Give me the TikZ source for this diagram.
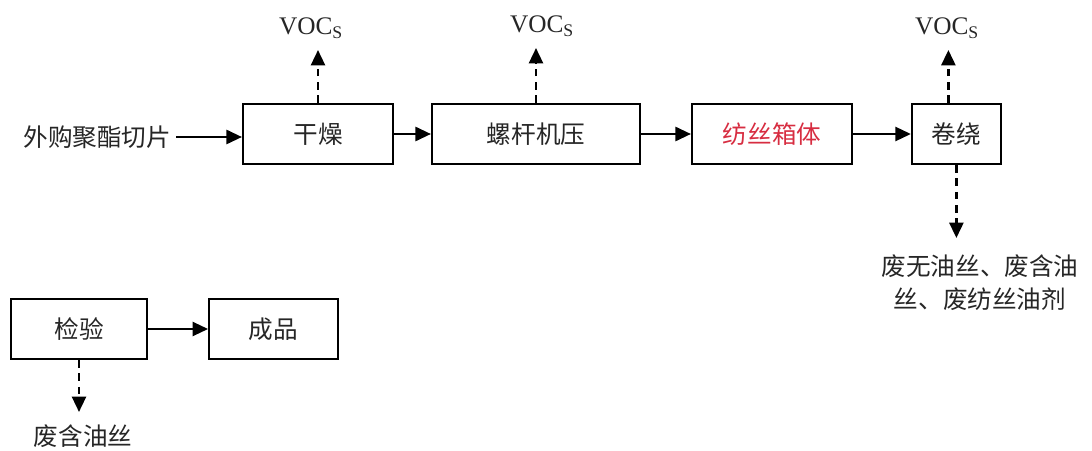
\documentclass[tikz,border=0pt]{standalone}
\usepackage{fontspec}
\setmainfont{Liberation Serif}
\newfontfamily\cjk{Noto Sans CJK SC}
\usetikzlibrary{arrows.meta}
\definecolor{spinred}{RGB}{215,45,65}
\tikzset{
  box/.style={draw, line width=1.5pt, minimum height=1.5cm, inner sep=0pt,
    font=\cjk\fontsize{17.5}{22}\selectfont, text=black!85},
  flow/.style={line width=1.6pt, -{Triangle[length=11pt,width=10pt]}},
  vent/.style={flow, line width=1.8pt, dash pattern=on 5.5pt off 4pt},
  cjklbl/.style={font=\cjk\fontsize{17.5}{24}\selectfont, text=black!85, align=center},
  voclbl/.style={font=\fontsize{18}{22}\selectfont, text=black!85, anchor=south, inner ysep=0.28cm}
}
\begin{document}
\begin{tikzpicture}
    \useasboundingbox (0,0) rectangle (27.3,11.25);
    % Nodes (process row)
    \node[box, minimum width=3.75cm] (dry) at (7.95,7.9) {干燥};
    \node[box, minimum width=5.2cm] (screw) at (13.4,7.9) {螺杆机压};
    \node[box, minimum width=4cm, text=spinred] (spin) at (19.3,7.9) {纺丝箱体};
    \node[box, minimum width=2.225cm] (wind) at (23.91,7.9) {卷绕};

    % Nodes (lower row)
    \node[box, minimum width=3.4cm] (check) at (1.975,3.025) {检验};
    \node[box, minimum width=3.225cm] (product) at (6.84,3.025) {成品};

    % Labels
    \node[cjklbl, anchor=east] (feed) at (4.4,7.825) {外购聚酯切片};
    \node[voclbl] (voc1) at (7.775,10.0) {VOC\textsubscript{S}};
    \node[voclbl] (voc2) at (13.55,10.05) {VOC\textsubscript{S}};
    \node[voclbl] (voc3) at (23.675,10.0) {VOC\textsubscript{S}};
    \node[cjklbl, anchor=north, inner ysep=0.4cm] (wasteA) at (24.5,5.3) {废无油丝、废含油\\丝、废纺丝油剂};
    \node[cjklbl, anchor=north, inner ysep=0.3cm] (wasteB) at (2.075,0.95) {废含油丝};

    % Arrows
    \draw[flow] (feed.east) -- (feed.east -| dry.west);
    \draw[flow] (dry) -- (screw);
    \draw[flow] (screw) -- (spin);
    \draw[flow] (spin) -- (wind);
    \draw[flow] (check) -- (product);

    % Dashed arrows (emissions and waste)
    \draw[vent] (dry.north) -- (dry.north |- voc1.south);
    \draw[vent] (screw.north) -- (screw.north |- voc2.south);
    \draw[vent] ([xshift=-0.2cm]wind.north) -- ([xshift=-0.2cm]wind.north |- voc3.south);
    \draw[vent] (wind.south) -- (wind.south |- wasteA.north);
    \draw[vent] (check.south) -- (check.south |- wasteB.north);
\end{tikzpicture}
\end{document}
